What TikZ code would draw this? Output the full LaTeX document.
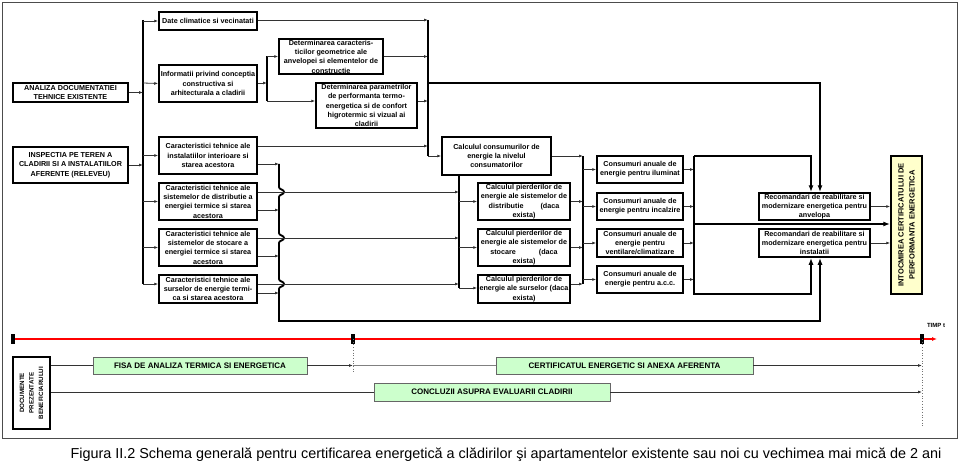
\documentclass[tikz,border=0pt]{standalone}
\usepackage{fontspec}
\setmainfont{Liberation Sans}
\usetikzlibrary{arrows.meta,fit,calc}
\definecolor{lgreen}{HTML}{CCFFCC}
\definecolor{lyellow}{HTML}{FFFFCC}
\tikzset{
 boxst/.style={draw=black, line width=1.5pt, inner sep=0pt},
 txt/.style={align=center, font=\bfseries\fontsize{7.2}{9.3}\selectfont, inner sep=0pt},
 conn/.style={draw=black!80, line width=0.8pt, -{Latex[length=4pt,width=3pt]}},
 plain/.style={draw=black!80, line width=0.8pt},
 bus/.style={draw=black, line width=1.8pt},
 bigarr/.style={draw=black, line width=1.8pt, -{Latex[length=7pt,width=5pt]}},
 gbox/.style={draw=black!60, line width=0.8pt, fill=lgreen, inner sep=0pt},
 gtxt/.style={font=\bfseries\fontsize{8}{9.6}\selectfont, inner sep=0pt},
}
\newcommand\bx[5][]{\node[boxst,#1,fit={(#3)(#4)}] (#2) {}; \node[txt] at (#2.center) {#5};}
\begin{document}
\begin{tikzpicture}[x=1pt,y=-1pt]
\useasboundingbox (0,0) rectangle (960,465);
\draw[black!70, line width=0.8pt] (2,2) rectangle (957,438);

% boxes
\bx{ana}{13,83}{128,102}{ANALIZA DOCUMENTATIEI\\TEHNICE EXISTENTE}
\bx{insp}{13,147}{128,183}{INSPECTIA PE TEREN A\\CLADIRII SI A INSTALATIILOR\\AFERENTE (RELEVEU)}
\bx{date}{159,12}{257,30}{Date climatice si vecinatati}
\bx{info}{159,65}{257,102}{Informatii privind conceptia\\constructiva si\\arhitecturala a cladirii}
\bx{inst}{159,137}{257,174}{Caracteristici tehnice ale\\instalatiilor interioare si\\starea acestora}
\bx{dist}{159,183}{257,220}{Caracteristici tehnice ale\\sistemelor de distributie a\\energiei termice si starea\\acestora}
\bx{stoc}{159,229}{257,266}{Caracteristici tehnice ale\\sistemelor de stocare a\\energiei termice si starea\\acestora}
\bx{surs}{159,275}{257,303}{Caracteristici tehnice ale\\surselor de energie termi-\\ca si starea acestora}
\bx{detc}{279,39}{383,74}{Determinarea caracteris-\\ticilor geometrice ale\\anvelopei si elementelor de\\constructie}
\bx{detp}{316,83}{417,128}{Determinarea parametrilor\\de performanta termo-\\energetica si de confort\\higrotermic si vizual ai\\cladirii}
\bx{calc}{442,137}{551,175}{Calculul consumurilor de\\energie la nivelul\\consumatorilor}
\bx{pd}{478,183}{570,220}{Calculul pierderilor de\\energie ale sistemelor de\\distributie\hspace{17pt}(daca\\exista)}
\bx{ps}{478,229}{570,266}{Calculul pierderilor de\\energie ale sistemelor de\\stocare\hspace{23pt}(daca\\exista)}
\bx{pu}{478,275}{570,303}{Calculul pierderilor de\\energie ale surselor (daca\\exista)}
\bx{ci}{597,156}{683,183}{Consumuri anuale de\\energie pentru iluminat}
\bx{cn}{597,193}{683,220}{Consumuri anuale de\\energie pentru incalzire}
\bx{cv}{597,229}{683,257}{Consumuri anuale de\\energie pentru\\ventilare/climatizare}
\bx{ca}{597,266}{683,293}{Consumuri anuale de\\energie pentru a.c.c.}
\bx{ra}{759,193}{870,220}{Recomandari de reabilitare si\\modernizare energetica pentru\\anvelopa}
\bx{ri}{759,229}{870,257}{Recomandari de reabilitare si\\modernizare energetica pentru\\instalatii}
\node[boxst, fill=lyellow, fit={(891,156)(922,294)}] (into) {};
\node[rotate=90, align=center, font=\bfseries\fontsize{7.5}{11}\selectfont, inner sep=0pt] at (into.center) {INTOCMIREA CERTIFICATULUI DE\\PERFORMANTA ENERGETICA};

% bus coordinates
\coordinate (B1) at (143,0);
\coordinate (Bi) at (267,0);
\coordinate (Br) at (279,0);
\coordinate (B2) at (428,0);
\coordinate (B3) at (459,0);
\coordinate (B4) at (583,0);
\coordinate (B5) at (694,0);
\coordinate (Ra) at (811,0);
\coordinate (Rb) at (820,0);

% bus 1
\draw[bus] (B1 |- 0,20) -- (B1 |- 0,284);
\draw[conn] (ana.east) -- (ana.east -| B1);
\draw[conn] (insp.east) -- (insp.east -| B1);
\draw[conn] (B1 |- 0,21) -- (date.west);
\draw[conn] (B1 |- 0,83) -- (info.west);
\draw[conn] (B1 |- 0,155.5) -- (inst.west);
\draw[conn] (B1 |- 0,201.5) -- (dist.west);
\draw[conn] (B1 |- 0,247.5) -- (stoc.west);
\draw[conn] (B1 |- 0,284) -- (surs.west |- 0,284);

% informatii split
\draw[conn] (info.east |- 0,83) -- (Bi |- 0,83);
\draw[bus] (Bi |- 0,56.5) -- (Bi |- 0,101);
\draw[conn] (Bi |- 0,56.5) -- (detc.west);
\draw[conn] (Bi |- 0,101) -- (detp.west |- 0,101);

% bus 2
\draw[bus] (B2 |- 0,20) -- (B2 |- 0,156);
\draw[conn] (date.east |- 0,20) -- (B2 |- 0,20);
\draw[conn] (detc.east) -- (detc.east -| B2);
\draw[conn] (detp.east |- 0,101) -- (B2 |- 0,101);
\draw[conn] (inst.east |- 0,146) -- (B2 |- 0,146);
\draw[conn] (B2 |- 0,156) -- (calc.west);
\draw[bigarr] (B2 |- 0,83) -- (Rb |- 0,83) -- (ra.north -| Rb);

% brace line
\draw[bigarr] (279,164) -- (279,187) .. controls (279,190) and (284,189) .. (284,192) .. controls (284,195) and (279,194) .. (279,197)
 -- (279,233) .. controls (279,236) and (284,235) .. (284,238) .. controls (284,241) and (279,240) .. (279,243)
 -- (279,279) .. controls (279,282) and (284,281) .. (284,284) .. controls (284,287) and (279,286) .. (279,289)
 -- (279,321) -- (Rb |- 0,321) -- (ri.south -| Rb);
\draw[conn] (inst.east |- 0,164) -- (Br |- 0,164);
\draw[conn] (dist.east |- 0,210) -- (Br |- 0,210);
\draw[conn] (stoc.east |- 0,256) -- (Br |- 0,256);
\draw[conn] (surs.east |- 0,293) -- (Br |- 0,293);
\draw[conn] (dist.east |- 0,192) -- (B3 |- 0,192);
\draw[conn] (stoc.east |- 0,238) -- (B3 |- 0,238);
\draw[conn] (surs.east |- 0,284) -- (B3 |- 0,284);

% bus 3
\draw[bus] (calc.south -| B3) -- (B3 |- 0,288);
\draw[conn] (B3 |- 0,201.5) -- (pd.west);
\draw[conn] (B3 |- 0,247.5) -- (ps.west);
\draw[conn] (B3 |- 0,288) -- (pu.west |- 0,288);

% bus 4
\draw[bus] (B4 |- 0,156) -- (B4 |- 0,284);
\draw[conn] (calc.east) -- (calc.east -| B4);
\draw[conn] (pd.east) -- (pd.east -| B4);
\draw[conn] (ps.east) -- (ps.east -| B4);
\draw[conn] (pu.east |- 0,284) -- (B4 |- 0,284);
\draw[conn] (B4 |- ci.west) -- (ci.west);
\draw[conn] (B4 |- cn.west) -- (cn.west);
\draw[conn] (B4 |- cv.west) -- (cv.west);
\draw[conn] (B4 |- ca.west) -- (ca.west);

% bus 5
\draw[conn] (ci.east) -- (ci.east -| B5);
\draw[conn] (cn.east) -- (cn.east -| B5);
\draw[conn] (cv.east) -- (cv.east -| B5);
\draw[conn] (ca.east) -- (ca.east -| B5);
\draw[bigarr] (B5 |- 0,156) -- (Ra |- 0,156) -- (ra.north -| Ra);
\draw[bigarr] (B5 |- 0,156) -- (B5 |- 0,294) -- (Ra |- 0,294) -- (ri.south -| Ra);
\draw[bigarr] (B5 |- 0,224) -- (into.west |- 0,224);
\draw[conn] (ra.east) -- (ra.east -| into.west);
\draw[conn] (ri.east) -- (ri.east -| into.west);

% time axis
\coordinate (t0) at (13,339);
\coordinate (t1) at (353,339);
\coordinate (t2) at (922,339);
\coordinate (tend) at (937,339);
\draw[red, line width=1.2pt, -{Latex[length=5pt,width=4pt]}] (t0) -- (tend);
\fill ($(t0)+(-1.8,-5)$) rectangle ($(t0)+(1.8,5)$);
\fill ($(t1)+(-1.8,-5)$) rectangle ($(t1)+(1.8,5)$);
\fill ($(t2)+(-1.8,-5)$) rectangle ($(t2)+(1.8,5)$);
\node[font=\bfseries\fontsize{6}{7}\selectfont, inner sep=0pt] (timp) at (936,325) {TIMP t};
\draw[black!55, dotted, line width=0.7pt] (t1) -- (353,372);
\draw[black!55, dotted, line width=0.7pt] (t2) -- (922,426);

% bottom boxes
\node[boxst, fit={(13,357)(50,429)}] (doc) {};
\node[rotate=90, align=center, font=\bfseries\fontsize{6.2}{9.5}\selectfont, inner sep=0pt] at (doc.center) {DOCUMENTE\\PREZENTATE\\BENEFICIARULUI};
\node[gbox, fit={(93,357)(307,374)}] (fisa) {};
\node[gtxt] at (fisa.center) {FISA DE ANALIZA TERMICA SI ENERGETICA};
\node[gbox, fit={(496,357)(753,374)}] (cert) {};
\node[gtxt] at (cert.center) {CERTIFICATUL ENERGETIC SI ANEXA AFERENTA};
\node[gbox, fit={(374,383)(610,401)}] (conc) {};
\node[gtxt] at (conc.center) {CONCLUZII ASUPRA EVALUARII CLADIRII};

\draw[plain] (doc.east |- fisa.west) -- (fisa.west);
\draw[conn] (fisa.east) -- (fisa.east -| t1);
\draw[plain, draw=black!50] (fisa.east -| t1) -- (cert.west);
\draw[conn] (cert.east) -- (cert.east -| t2);
\draw[plain] (doc.east |- conc.west) -- (conc.west);
\draw[conn] (conc.east) -- (conc.east -| t2);

% caption
\node[font=\fontsize{14.4}{16}\selectfont, inner sep=0pt] (cap) at (506,455) {Figura II.2 Schema generală pentru certificarea energetică a clădirilor şi apartamentelor existente sau noi cu vechimea mai mică de 2 ani};
\end{tikzpicture}
\end{document}
